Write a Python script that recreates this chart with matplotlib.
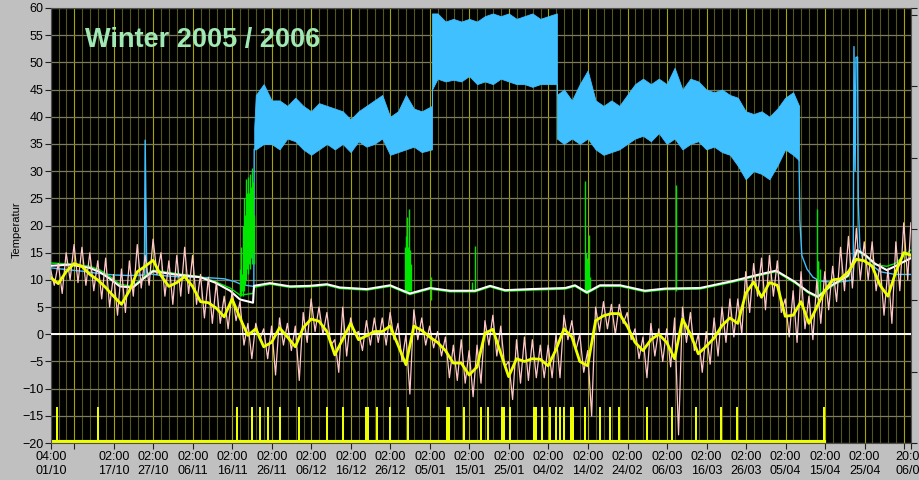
import numpy as np
import matplotlib
matplotlib.use("Agg")
import matplotlib.pyplot as plt

# x values are days since 2005-10-01 00:00

# outdoor temperature, smoothed (yellow) and raw envelope (pink), every 2 days
out_days = np.append(np.arange(0, 217, 2), 217.8)
out_smooth = [10.5, 9.3, 11.5, 13, 12.5, 11, 10, 8.6, 7, 5.5,
              8, 11.5, 12.5, 13.6, 10.8, 8.8, 9.5, 10.6, 8.8, 6,
              5.8, 4.8, 3.2, 6.5, 3, -0.2, 1, -2.3, -1.5, 1.2,
              -0.5, -2.3, 1.2, 2.8, 2.4, 0.5, -3.8, -0.9, 2, -1,
              -0.3, 0.5, 0.5, 1.5, -2, -5.6, 1.5, 0.7, -0.5, -1.5,
              -3, -5.3, -5.3, -7.5, -6, 0.2, 0.9, -3.5, -7.8, -4.5,
              -5, -4.5, -4.6, -5.8, -2.8, 1, -0.5, -5, -5.8, 2.5,
              3.4, 3.8, 3.8, 1.5, -1.5, -3, -1, 0, -1.5, -4.5,
              2.8, 0, -3.6, -2.2, -0.7, 1.6, 3, 2, 7.5, 9.6,
              6.8, 9.5, 9, 3.3, 3.5, 6, 2, 5, 8, 10,
              10.2, 11.5, 13.8, 13.5, 12.5, 9, 7, 11.5, 15, 14.5]
out_hi = [12, 13, 15, 16.5, 16, 15, 13.5, 14, 11, 12,
          13.5, 16.5, 14.5, 17.5, 15, 13.5, 14.5, 16, 14.5, 11,
          10.5, 9.5, 7, 8, 6, 2, 2, 1, 1.5, 3,
          2, 1.5, 4, 6.5, 5, 4, -1, 5, 3, 0.5,
          2.5, 3, 3, 4, 2, 0, 4.5, 3, 1.5, 0.5,
          -0.5, -2, -1, -3, -2, 2.5, 3.5, 1.5, -5, -1,
          -0.5, -1, -2, -2, 0, 3.5, 2.5, 0, -3, 5,
          6, 5.5, 5.5, 4, 1, -0.5, 2, 1, 1, 3,
          5, 4, 0, 0.5, 3, 5, 6.5, 6.5, 11.5, 13,
          14, 14.5, 13.5, 6.5, 8, 11.5, 7, 10, 11.5, 12.5,
          16, 18, 19.5, 17, 17, 13, 12, 17, 20.5, 20.5]
out_lo = [9, 7.5, 10, 9.5, 9, 8, 6.5, 5, 3.5, 4,
          7, 8.5, 9, 11, 7, 5.5, 7, 7.5, 5.5, 3,
          2, 2, 1, 2.5, -2, -4.5, -1, -4.5, -7.5, -2,
          -3, -8.5, -1.5, 0.5, 0, -2, -7, -4, 0, -3,
          -2, -1.5, -2, -1, -5, -11, -1, -2, -2.5, -4,
          -8, -8.5, -9, -11.5, -9, -2, -4, -6, -12, -9,
          -8.5, -8, -8, -8, -8, -1, -3, -7, -15, 0.5,
          1, 0, 2, -1, -4.5, -8, -4, -5, -6, -18.5,
          -1.5, -3, -7, -5.5, -4, -1.5, -0.5, 0, 4, 7,
          4.5, 7, 4, -0.5, -1.5, 1, -1, 2, 4.5, 6,
          8, 8.5, 10, 10, 8, 3.5, 2, 8, 10, 11]

# supply temperature (blue): smooth start, noisy band, smooth end
blue_start_days = [0.17, 4, 8, 12, 16, 20, 23.8, 24.0, 24.4, 28, 32, 36, 40, 44, 47, 48.5, 51.5]
blue_start_vals = [12.2, 11.9, 11.6, 11.2, 10.9, 10.8, 10.9, 35.7, 11.2, 10.8, 10.6, 10.5, 10.4,
                   10.2, 9.6, 9.1, 8.8]
band_days = [51.6, 52, 54, 56, 58, 60, 62, 64, 66, 68, 70, 72, 74, 76, 78, 80, 82, 84, 86, 88,
             90, 92, 94, 96.6,
             96.6, 98, 100, 102, 104, 106, 108, 110, 112, 114, 116, 118, 120, 122, 124, 126, 128.2,
             128.2, 130, 132, 134, 136, 138, 140, 142, 144, 146, 148, 150, 152, 154, 156, 158, 160,
             162, 164, 166, 168, 170, 172, 174, 176, 178, 180, 182, 184, 186, 188, 189.5]
band_hi = [38, 44, 46, 43, 43, 42, 43.5, 42, 41, 42.5, 42, 41.5, 41, 39.5, 41, 42, 43, 44, 40, 41,
           44, 41.5, 41, 42,
           59, 59, 57.5, 58, 57.5, 58, 57.5, 58.5, 59, 58.5, 59, 58, 58.5, 59, 58, 58.5, 59,
           44, 45, 43, 46, 48.5, 43, 42, 43, 42, 44, 46, 47, 46, 47, 46, 49, 45,
           47, 46.5, 45, 44.5, 45, 44, 43.5, 41, 40.5, 41, 40, 41.5, 43.5, 44.5, 42]
band_lo = [34, 34, 35, 35, 34, 36, 35.5, 34, 33, 34, 35, 34, 35, 33.5, 35.5, 34.5, 35, 36, 33, 33.5,
           34, 34.5, 33.5, 34,
           45, 47, 46.5, 46.8, 46.5, 47.5, 46, 46.5, 46, 47, 46.5, 46, 46, 45.5, 46, 46, 46,
           36, 35, 36, 35, 36, 34, 33, 33.5, 34, 35, 36, 36.5, 35.5, 37, 35, 36, 34,
           35, 35.5, 34, 34.5, 33.5, 33, 31, 28.5, 30, 29.5, 28.5, 31, 34, 33, 32]
blue_end_days = [189.5, 189.7, 190.2, 191.5, 193, 194.8, 198.6, 201.6, 203.2, 203.4, 203.7, 203.9,
                 204.3, 204.5, 204.9, 205.7, 207.5, 210, 213.8, 217.8]
blue_end_vals = [32, 21, 14.5, 12, 10.5, 9.8, 9.5, 9.8, 10, 52.9, 30, 50.9, 51, 24, 16, 13.5,
                 13, 11.5, 11, 11]

# room temperature (white) and second sensor (green)
white_days = [0.17, 5, 10, 12.6, 15.1, 17.6, 20.9, 24, 26, 31.5, 37.9, 41.7, 45.5, 48, 51.3, 51.55,
              55.6, 60.7, 65.7, 70, 73.3, 80.1, 86, 89.3, 91, 96.1, 101.2, 107.5, 111.3, 115.1,
              121.4, 130.3, 132.8, 135.8, 139.1, 144.2, 150.5, 155.6, 164.4, 172.8, 178.9, 183.7,
              188.5, 191.8, 194.3, 197.3, 201.9, 204.2, 206.4, 208.7, 211.7, 213.8, 217.8]
white_vals = [12.6, 12.8, 12.2, 11.4, 10.2, 8.8, 8.6, 10.5, 11.6, 11, 10.5, 9.5, 8, 6.4, 5.8, 8.9,
              9.4, 8.8, 8.9, 9.2, 8.6, 8.3, 9, 8, 7.5, 8.5, 8, 8, 8.9, 8.1,
              8.3, 8.5, 9, 7.7, 9, 9, 8, 8.4, 8.5, 9.8, 10.9, 11.7,
              9.6, 7.8, 6.9, 8.8, 10.8, 15.5, 14.5, 13, 11.8, 12.5, 14]
green_vals = [13.1, 12.9, 12.5, 11.8, 10.6, 9.2, 8.8, 10.8, 11.8, 11.2, 10.6, 9.7, 8.5, 7.2, 7.5, 8.6,
              9.2, 8.6, 8.7, 9.0, 8.4, 8.1, 8.8, 7.8, 7.3, 8.3, 7.8, 7.8, 8.7, 7.9,
              8.1, 8.3, 8.8, 7.5, 8.8, 8.8, 7.8, 8.2, 8.3, 9.6, 10.7, 11.5,
              9.4, 7.6, 6.7, 8.6, 10.6, 15.3, 14.3, 12.8, 12.5, 13, 15.5]
spike_days = [48.0, 48.3, 48.5, 48.8, 49.0, 49.3, 49.5, 49.8, 50.0, 50.3, 50.5, 50.8, 51.0, 51.3, 51.5,
              89.8, 90.0, 90.3, 90.5, 90.8, 91.0, 91.3, 96.3, 106.7, 107.6,
              135.3, 135.6, 135.8, 136.1, 136.3, 136.6, 158.3,
              194.0, 194.2, 194.4, 194.7]
spike_lo = [7, 7, 8, 7, 8, 9, 10, 12, 11, 13, 12, 14, 13, 15, 13,
            8, 8, 8, 8, 8, 8, 8, 6.3, 8, 8,
            8, 8, 7.5, 7.5, 8, 8, 8,
            7, 6.8, 7, 7]
spike_hi = [12, 16, 11, 20, 25, 22, 28.5, 26, 29, 26, 29.5, 27, 30.5, 28, 22,
            16, 18, 21.5, 16, 23, 15.5, 13, 10.5, 9.6, 16.3,
            28.2, 15, 14, 13, 18.3, 10.6, 27.4,
            23, 13.5, 13.5, 12]

# burner on signal (yellow bars at the bottom)
burn_days = [1.36, 11.73, 46.91, 50.71, 52.74, 54.76, 57.8, 62.61, 69.77, 73.82, 79.56, 82.35,
             85.71, 90.35, 100.06, 104.37, 108.75, 110.44, 114.06, 116.16, 122.08, 124.18, 126.21,
             127.73, 128.66, 129.83, 131.52, 135.0, 138.87, 141.4, 143.68, 150.76, 157.01, 163.24,
             169.49, 173.54, 195.63]
burn_len = [0.5, 0.5, 0.5, 0.5, 0.5, 0.5, 0.5, 0.5, 0.5, 0.5, 1.0, 0.5,
            0.5, 0.5, 1.0, 0.5, 0.5, 0.5, 1.0, 0.5, 1.0, 0.5, 0.5,
            0.5, 0.5, 0.5, 1.0, 0.5, 0.5, 0.5, 0.5, 0.5, 0.5, 0.5,
            0.5, 0.5, 0.5]
burn_on = -13.3
burn_off = -20

# x axis ticks (days) and labels
tick_days = [0.167, 6.083, 16.083, 26.083, 36.083, 46.083, 56.083, 66.083, 76.083, 86.083, 96.083,
             106.083, 116.083, 126.083, 136.083, 146.083, 156.083, 166.083, 176.083, 186.083,
             196.083, 206.083, 216.083, 217.833]
tick_labels = ["04:00\n01/10", "", "02:00\n17/10", "02:00\n27/10", "02:00\n06/11", "02:00\n16/11",
               "02:00\n26/11", "02:00\n06/12", "02:00\n16/12", "02:00\n26/12", "02:00\n05/01",
               "02:00\n15/01", "02:00\n25/01", "02:00\n04/02", "02:00\n14/02", "02:00\n24/02",
               "02:00\n06/03", "02:00\n16/03", "02:00\n26/03", "02:00\n05/04", "02:00\n15/04",
               "02:00\n25/04", "", "20:00\n06/05"]

plt.rcParams['font.family'] = ['Liberation Sans', 'DejaVu Sans']

fig = plt.figure(figsize=(9.2, 4.8), dpi=100, facecolor="#c0c0c0")
ax = fig.add_axes([51 / 920, 37 / 480, 860 / 920, 435 / 480])
ax.set_facecolor("black")
ax.set_xlim(0.167, 217.833)
ax.set_ylim(-20, 60)

# grid
ax.set_yticks(np.arange(-20, 61, 5))
ax.set_xticks(tick_days)
ax.set_xticklabels(tick_labels)
ax.set_xticks(np.arange(2.083, 217, 2), minor=True)
ax.grid(which="minor", axis="x", color="#55551a", lw=0.8)
ax.grid(which="major", axis="x", color="#a5a500", lw=0.8)
ax.grid(which="major", axis="y", color="#7c7c5c", lw=0.9)
ax.set_axisbelow(True)

ax.tick_params(axis="x", which="minor", length=0)
ax.tick_params(axis="x", which="major", length=4, color="#202020", labelsize=9, pad=2)
ax.tick_params(axis="y", length=4.5, color="#202020", labelsize=9, pad=1)
for s in ax.spines.values():
    s.set_color("#505050")
    s.set_linewidth(0.8)

# burner bars
ax.bar(burn_days, burn_on - burn_off, bottom=burn_off, width=burn_len, align="edge",
       color="#eeff00", lw=0, zorder=2)
ax.plot([tick_days[0], burn_days[-1]], [burn_off, burn_off], color="#eeff00", lw=4.4, zorder=2)

# supply temperature
ax.plot(blue_start_days + [band_days[0]], blue_start_vals + [band_lo[0]], color="#40c0ff",
        lw=1.0, zorder=3)
ax.fill_between(band_days, band_lo, band_hi, color="#40c0ff", lw=0.6, edgecolor="#40c0ff", zorder=3)
ax.plot(blue_end_days, blue_end_vals, color="#40c0ff", lw=1.0, zorder=3)

# green sensor and room temperature
ax.vlines(spike_days, spike_lo, spike_hi, color="#00e600", lw=1.0, zorder=4)
ax.plot(white_days, green_vals, color="#00e600", lw=1.0, zorder=4)
ax.plot(white_days, white_vals, color="white", lw=1.5, zorder=5)

# outdoor temperature
zig_x, zig_y = [], []
for d, hi, lo in zip(out_days, out_hi, out_lo):
    zig_x += [d, d + 1]
    zig_y += [hi, lo]
ax.plot(zig_x[:-1], zig_y[:-1], color="#ffc8c8", lw=0.9, zorder=6)
ax.axhline(0, color="white", lw=1.4, zorder=7)
ax.plot(out_days, out_smooth, color="#eeff00", lw=2.0, zorder=8)

ax.text(0.0395, 0.91, "Winter 2005 / 2006", transform=ax.transAxes, color="#a0e8b4",
        fontsize=19.5, fontweight="bold", va="baseline", ha="left", zorder=9)

fig.text(17 / 920, 1 - 230 / 480, "Temperatur", rotation=90, fontsize=8, ha="center", va="center")

# unlabelled scale on the right
ax2 = ax.twinx()
ax2.set_ylim(0, 6.1)
ax2.set_yticks([0, 1, 2, 3, 4, 5, 6, 6.1])
ax2.set_yticklabels([])
ax2.tick_params(axis="y", length=4.5, color="#202020")
for s in ax2.spines.values():
    s.set_visible(False)

fig.savefig("out.png", dpi=100, facecolor=fig.get_facecolor())
